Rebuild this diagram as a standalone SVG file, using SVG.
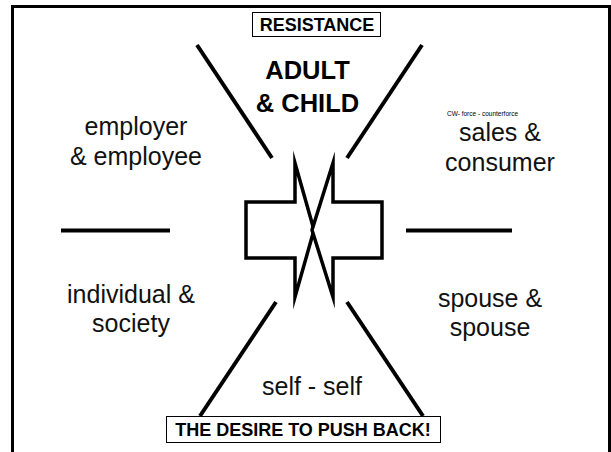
<svg xmlns="http://www.w3.org/2000/svg" width="611" height="452" viewBox="0 0 611 452">
  <style>
    .frame { fill: none; stroke: #000; stroke-width: 3; }
    .bar { stroke: #000; stroke-width: 4; stroke-linecap: butt; }
    .arrow { fill: #fff; stroke: #000; stroke-width: 3.5; stroke-linejoin: miter; stroke-miterlimit: 20; }
    .label { font-family: "Liberation Sans", Arial, sans-serif; font-size: 25px; fill: #111; text-anchor: middle; }
    .bold { font-family: "Liberation Sans", Arial, sans-serif; font-weight: bold; fill: #000; text-anchor: middle; }
    .tag { fill: #fff; stroke: #000; stroke-width: 1; }
    .tiny { font-family: "Liberation Sans", Arial, sans-serif; font-size: 6.5px; fill: #000; }
  </style>
  <rect width="611" height="452" fill="#fff"/>

  <!-- outer frame, open at the bottom -->
  <path class="frame" d="M12.5,452 V6.5 H609.5 V452"/>

  <!-- dividing strokes -->
  <g id="connectors">
    <line class="bar" x1="197" y1="45" x2="272" y2="158"/>
    <line class="bar" x1="422" y1="45" x2="347" y2="158"/>
    <line class="bar" x1="276" y1="302" x2="200" y2="416"/>
    <line class="bar" x1="347" y1="302" x2="423" y2="416"/>
    <line class="bar" x1="61" y1="230.5" x2="170" y2="230.5"/>
    <line class="bar" x1="406" y1="230.5" x2="512" y2="230.5"/>
  </g>

  <!-- opposing arrows -->
  <g id="arrow-left">
    <polygon class="arrow" points="246,202 295,202 295,163 314,230 295,297 295,258 246,258"/>
  </g>
  <g id="arrow-right">
    <polygon class="arrow" points="382,202 333,202 333,163 312,230 333,297 333,258 382,258"/>
  </g>

  <g id="resistance">
    <rect class="tag" x="252.5" y="12.5" width="128" height="24"/>
    <text class="bold" x="317" y="31" font-size="18">RESISTANCE</text>
  </g>

  <g id="adult-child">
    <text class="bold" x="307.5" y="79" font-size="25.5">ADULT</text>
    <text class="bold" x="307.5" y="112" font-size="25.5">&amp; CHILD</text>
  </g>

  <g id="employer-employee">
    <text class="label" x="136" y="135">employer</text>
    <text class="label" x="136" y="165">&amp; employee</text>
  </g>

  <g id="sales-consumer">
    <text class="tiny" x="447" y="116">CW- force - counterforce</text>
    <text class="label" x="500" y="141">sales &amp;</text>
    <text class="label" x="500" y="171">consumer</text>
  </g>

  <g id="individual-society">
    <text class="label" x="131" y="303">individual &amp;</text>
    <text class="label" x="131" y="332">society</text>
  </g>

  <g id="spouse-spouse">
    <text class="label" x="490" y="307">spouse &amp;</text>
    <text class="label" x="490" y="336">spouse</text>
  </g>

  <g id="self-self">
    <text class="label" x="312" y="395">self - self</text>
  </g>

  <g id="push-back">
    <rect class="tag" x="166.5" y="416.5" width="274" height="26"/>
    <text class="bold" x="303" y="436" font-size="18">THE DESIRE TO PUSH BACK!</text>
  </g>
</svg>
